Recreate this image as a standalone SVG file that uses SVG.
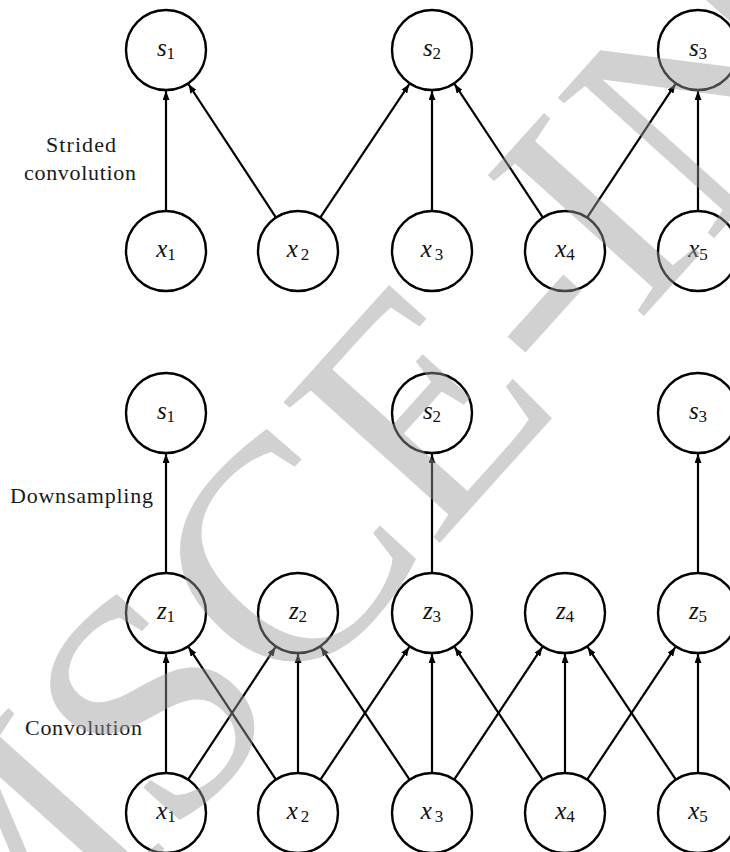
<svg xmlns="http://www.w3.org/2000/svg" width="730" height="852" viewBox="0 0 730 852">
  <defs>
    <marker id="tip" viewBox="0 0 9 7" refX="9" refY="3.5" markerWidth="9" markerHeight="7" markerUnits="userSpaceOnUse" orient="auto">
      <path d="M0,0 L9,3.5 L0,7 z" fill="#000"/>
    </marker>
  </defs>
  <style>
    .node circle { fill: #fff; stroke: #000; stroke-width: 2.4; }
    .lbl { font-family: "Liberation Serif", "Times New Roman", serif; font-size: 25px; font-style: italic; fill: #111; text-anchor: middle; }
    .sub { font-size: 17px; font-style: normal; }
    .edges line { stroke: #000; stroke-width: 2.2; marker-end: url(#tip); }
    .cap { font-family: "Liberation Serif", "Times New Roman", serif; font-size: 22px; fill: #1a1a1a; }
    .mark { font-family: "Liberation Serif", "Times New Roman", serif; font-size: 300px; fill: #999; fill-opacity: 0.45; }
  </style>
  <rect width="730" height="852" fill="#fff"/>

  <!-- side captions -->
  <text class="cap" x="46" y="152" textLength="70" lengthAdjust="spacing">Strided</text>
  <text class="cap" x="24" y="180" textLength="112" lengthAdjust="spacing">convolution</text>
  <text class="cap" x="10" y="503" textLength="143" lengthAdjust="spacing">Downsampling</text>
  <text class="cap" x="25" y="735" textLength="117" lengthAdjust="spacing">Convolution</text>

  <!-- connectors -->
  <g id="edges" class="edges">
    <!-- strided convolution -->
    <line x1="166" y1="211" x2="166" y2="91"/>
    <line x1="276.04" y1="217.56" x2="188.50" y2="84.27"/>
    <line x1="320.19" y1="217.72" x2="409.26" y2="84.12"/>
    <line x1="432" y1="211" x2="432" y2="91"/>
    <line x1="542.93" y1="217.64" x2="454.62" y2="84.19"/>
    <line x1="587.07" y1="217.64" x2="675.38" y2="84.19"/>
    <line x1="698" y1="211" x2="698" y2="91"/>
    <!-- downsampling -->
    <line x1="166" y1="573" x2="166" y2="454"/>
    <line x1="432" y1="573" x2="432" y2="454"/>
    <line x1="698" y1="573" x2="698" y2="454"/>
    <!-- convolution -->
    <line x1="166" y1="773" x2="166" y2="654"/>
    <line x1="188.03" y1="779.62" x2="275.42" y2="647.22"/>
    <line x1="275.97" y1="779.62" x2="188.58" y2="647.22"/>
    <line x1="298" y1="773" x2="298" y2="654"/>
    <line x1="320.26" y1="779.77" x2="409.18" y2="647.06"/>
    <line x1="409.74" y1="779.77" x2="320.82" y2="647.06"/>
    <line x1="432" y1="773" x2="432" y2="654"/>
    <line x1="454.15" y1="779.69" x2="542.30" y2="647.14"/>
    <line x1="542.85" y1="779.69" x2="454.70" y2="647.14"/>
    <line x1="565" y1="773" x2="565" y2="654"/>
    <line x1="587.15" y1="779.69" x2="675.30" y2="647.14"/>
    <line x1="675.85" y1="779.69" x2="587.70" y2="647.14"/>
    <line x1="698" y1="773" x2="698" y2="654"/>
  </g>

  <!-- strided convolution: outputs -->
  <g id="ts1" class="node"><circle cx="166" cy="50" r="40"/><text class="lbl" x="166" y="56">s<tspan class="sub" dy="3">1</tspan></text></g>
  <g id="ts2" class="node"><circle cx="432" cy="50" r="40"/><text class="lbl" x="432" y="56">s<tspan class="sub" dy="3">2</tspan></text></g>
  <g id="ts3" class="node"><circle cx="698" cy="50" r="40"/><text class="lbl" x="698" y="56">s<tspan class="sub" dy="3">3</tspan></text></g>
  <!-- strided convolution: inputs -->
  <g id="tx1" class="node"><circle cx="166" cy="251" r="40"/><text class="lbl" x="166" y="257">x<tspan class="sub" dy="3">1</tspan></text></g>
  <g id="tx2" class="node"><circle cx="298" cy="251" r="40"/><text class="lbl" x="298" y="257">x<tspan class="sub" dx="3" dy="3">2</tspan></text></g>
  <g id="tx3" class="node"><circle cx="432" cy="251" r="40"/><text class="lbl" x="432" y="257">x<tspan class="sub" dx="3" dy="3">3</tspan></text></g>
  <g id="tx4" class="node"><circle cx="565" cy="251" r="40"/><text class="lbl" x="565" y="257">x<tspan class="sub" dy="3">4</tspan></text></g>
  <g id="tx5" class="node"><circle cx="698" cy="251" r="40"/><text class="lbl" x="698" y="257">x<tspan class="sub" dy="3">5</tspan></text></g>

  <!-- downsampled outputs -->
  <g id="bs1" class="node"><circle cx="166" cy="413" r="40"/><text class="lbl" x="166" y="419">s<tspan class="sub" dy="3">1</tspan></text></g>
  <g id="bs2" class="node"><circle cx="432" cy="413" r="40"/><text class="lbl" x="432" y="419">s<tspan class="sub" dy="3">2</tspan></text></g>
  <g id="bs3" class="node"><circle cx="698" cy="413" r="40"/><text class="lbl" x="698" y="419">s<tspan class="sub" dy="3">3</tspan></text></g>
  <!-- convolution outputs -->
  <g id="z1" class="node"><circle cx="166" cy="613" r="40"/><text class="lbl" x="166" y="619">z<tspan class="sub" dy="3">1</tspan></text></g>
  <g id="z2" class="node"><circle cx="298" cy="613" r="40"/><text class="lbl" x="298" y="619">z<tspan class="sub" dy="3">2</tspan></text></g>
  <g id="z3" class="node"><circle cx="432" cy="613" r="40"/><text class="lbl" x="432" y="619">z<tspan class="sub" dy="3">3</tspan></text></g>
  <g id="z4" class="node"><circle cx="565" cy="613" r="40"/><text class="lbl" x="565" y="619">z<tspan class="sub" dy="3">4</tspan></text></g>
  <g id="z5" class="node"><circle cx="698" cy="613" r="40"/><text class="lbl" x="698" y="619">z<tspan class="sub" dy="3">5</tspan></text></g>
  <!-- inputs -->
  <g id="bx1" class="node"><circle cx="166" cy="813" r="40"/><text class="lbl" x="166" y="819">x<tspan class="sub" dy="3">1</tspan></text></g>
  <g id="bx2" class="node"><circle cx="298" cy="813" r="40"/><text class="lbl" x="298" y="819">x<tspan class="sub" dx="3" dy="3">2</tspan></text></g>
  <g id="bx3" class="node"><circle cx="432" cy="813" r="40"/><text class="lbl" x="432" y="819">x<tspan class="sub" dx="3" dy="3">3</tspan></text></g>
  <g id="bx4" class="node"><circle cx="565" cy="813" r="40"/><text class="lbl" x="565" y="819">x<tspan class="sub" dy="3">4</tspan></text></g>
  <g id="bx5" class="node"><circle cx="698" cy="813" r="40"/><text class="lbl" x="698" y="819">x<tspan class="sub" dy="3">5</tspan></text></g>

  <!-- translucent diagonal watermark over everything -->
  <text class="mark" transform="translate(518,336) rotate(-48) scale(1.07) translate(-835,75)" x="0" y="0">MSCE-IN</text>
</svg>
